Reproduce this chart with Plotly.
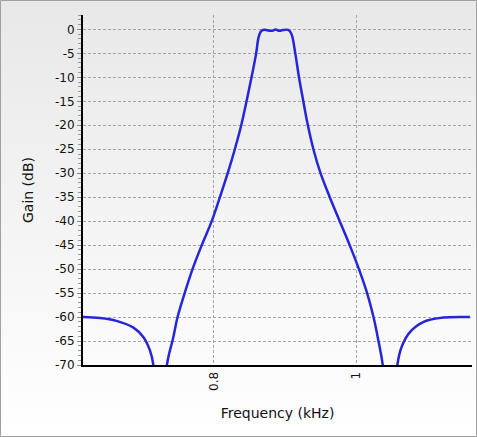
import base64
import plotly.graph_objects as go

# filter response
freq_khz = [0.616, 0.640, 0.663, 0.687, 0.701, 0.710, 0.715, 0.724, 0.734, 0.743,
            0.749, 0.759, 0.770, 0.783, 0.797, 0.8085, 0.8195, 0.8295, 0.8385, 0.846,
            0.853, 0.8595, 0.863, 0.867, 0.872, 0.877, 0.882, 0.887, 0.892, 0.897,
            0.9045, 0.909, 0.9145, 0.9197, 0.9258, 0.9322, 0.9400, 0.950, 0.963, 0.977,
            0.991, 1.004, 1.0155, 1.0245, 1.0315, 1.0375, 1.048, 1.058, 1.064, 1.076,
            1.095, 1.123, 1.160]
gain_db = [-60.0, -60.2, -60.8, -62.2, -64.2, -66.9, -70.0, -90.0, -70.0, -64.2,
           -60.0, -55.0, -50.0, -45.0, -40.0, -35.0, -30.0, -25.0, -20.0, -15.0,
           -10.0, -5.0, -1.6, -0.3, -0.1, -0.25, -0.3, 0.0, -0.3, -0.15,
           -0.1, -0.9, -5.0, -10.0, -15.0, -20.0, -25.0, -30.0, -35.0, -40.0,
           -45.0, -50.0, -55.0, -60.0, -65.0, -70.0, -90.0, -70.0, -66.25, -63.1,
           -61.0, -60.1, -60.0]

y_ticks = [0, -5, -10, -15, -20, -25, -30, -35, -40, -45, -50, -55, -60, -65, -70]
x_ticks = [0.8, 1.0]
x_labels = ["0.8", "1"]

W, H = 477, 437
L, R, T, B = 83, 5, 15, 72
pw, ph = W - L - R, H - T - B

svg = ('<svg xmlns="http://www.w3.org/2000/svg" width="10" height="100" preserveAspectRatio="none">'
       '<defs><linearGradient id="g" x1="0" y1="0" x2="0" y2="1">'
       '<stop offset="0" stop-color="#e8e8e8"/><stop offset="1" stop-color="#ffffff"/>'
       '</linearGradient></defs><rect width="10" height="100" fill="url(#g)"/></svg>')
bg = "data:image/svg+xml;base64," + base64.b64encode(svg.encode()).decode()

fig = go.Figure()
fig.add_trace(go.Scatter(x=freq_khz, y=gain_db, mode="lines",
                         line=dict(color="#2626d8", width=2.5, shape="spline", smoothing=1.0),
                         showlegend=False, hoverinfo="skip"))

fig.update_layout(
    width=W, height=H,
    margin=dict(l=L, r=R, t=T, b=B),
    paper_bgcolor="white", plot_bgcolor="rgba(0,0,0,0)",
    font=dict(family="DejaVu Sans", size=12, color="#111"),
    images=[dict(source=bg, xref="paper", yref="paper",
                 x=-L / pw, y=1 + T / ph, sizex=W / pw, sizey=H / ph,
                 xanchor="left", yanchor="top", sizing="stretch", layer="below")],
    shapes=[dict(type="rect", xref="paper", yref="paper",
                 x0=-L / pw + 0.5 / pw, x1=1 + (R - 0.5) / pw,
                 y0=-B / ph + 0.5 / ph, y1=1 + (T - 0.5) / ph,
                 line=dict(color="#a0a0a0", width=1), layer="above")],
)

fig.update_xaxes(
    range=[0.616, 1.163], tickvals=x_ticks, ticktext=x_labels, tickangle=-90,
    showgrid=True, gridcolor="#a4a4a4", griddash="3px,2px", gridwidth=1,
    showline=True, linecolor="black", linewidth=2, ticks="", zeroline=False,
    title=dict(text="Frequency (kHz)", standoff=18),
)
fig.update_yaxes(
    range=[-70, 3], tickvals=y_ticks, ticktext=[str(v) for v in y_ticks],
    showgrid=True, gridcolor="#a4a4a4", griddash="3px,2px", gridwidth=1,
    showline=True, linecolor="black", linewidth=2, zeroline=False,
    ticks="outside", ticklen=4, tickcolor="#888",
    minor=dict(dtick=1, ticks="outside", ticklen=3, tickcolor="#999", showgrid=False),
    title=dict(text="Gain (dB)", standoff=18),
)

fig.write_html("out.html", config={"displayModeBar": False},
               post_script="document.body.style.margin='0';")
